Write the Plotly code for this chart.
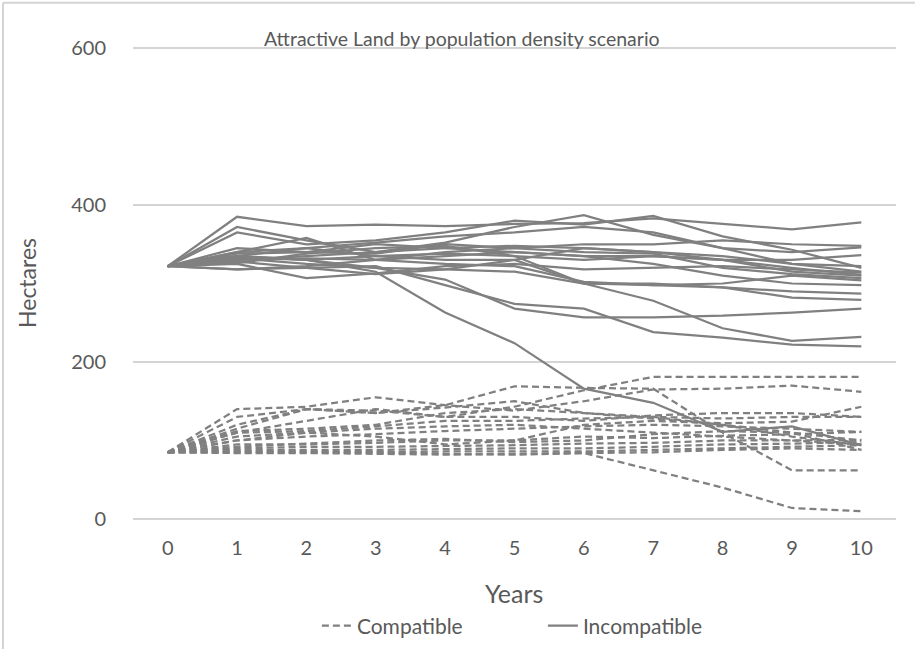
import plotly.graph_objects as go

years = list(range(11))

# Incompatible scenarios (solid lines), hectares per year 0..10
incompatible = [
    [322, 385, 373, 375, 373, 376, 377, 383, 376, 369, 378],
    [322, 372, 355, 340, 352, 372, 387, 362, 345, 325, 315],
    [322, 365, 350, 355, 365, 380, 375, 386, 360, 343, 320],
    [322, 340, 358, 330, 340, 345, 350, 350, 355, 350, 348],
    [322, 335, 345, 352, 360, 365, 372, 365, 345, 340, 346],
    [322, 330, 335, 340, 345, 348, 345, 340, 335, 325, 322],
    [322, 328, 320, 312, 318, 330, 345, 340, 330, 330, 336],
    [322, 325, 307, 313, 322, 325, 318, 320, 322, 318, 314],
    [322, 318, 322, 330, 335, 340, 335, 335, 330, 320, 311],
    [322, 333, 330, 335, 338, 335, 330, 335, 330, 315, 310],
    [322, 345, 340, 338, 350, 345, 340, 338, 320, 312, 307],
    [322, 330, 332, 330, 325, 322, 302, 298, 300, 310, 304],
    [322, 338, 340, 350, 345, 340, 335, 325, 310, 300, 298],
    [322, 326, 338, 345, 348, 335, 300, 298, 295, 290, 287],
    [322, 332, 325, 320, 318, 315, 300, 300, 295, 282, 279],
    [322, 318, 320, 322, 298, 274, 268, 238, 231, 222, 220],
    [322, 335, 330, 320, 305, 268, 257, 257, 259, 263, 268],
    [322, 340, 345, 335, 330, 330, 300, 278, 243, 227, 232],
    [322, 335, 330, 315, 263, 224, 166, 148, 111, 118, 94],
]

# Compatible scenarios (dashed lines)
compatible = [
    [85, 84, 84, 83, 82, 83, 84, 85, 88, 90, 88],
    [85, 86, 86, 85, 86, 86, 86, 88, 90, 92, 94],
    [85, 88, 88, 88, 89, 90, 90, 92, 95, 96, 98],
    [85, 90, 92, 92, 93, 94, 96, 97, 100, 100, 101],
    [85, 95, 95, 97, 100, 100, 105, 103, 106, 108, 111],
    [85, 100, 105, 108, 112, 115, 118, 120, 118, 115, 111],
    [85, 105, 110, 115, 118, 120, 115, 110, 105, 100, 95],
    [85, 110, 112, 118, 125, 125, 128, 130, 128, 130, 130],
    [85, 112, 115, 120, 135, 140, 135, 128, 120, 105, 94],
    [85, 120, 140, 138, 130, 130, 125, 132, 135, 135, 130],
    [85, 130, 140, 135, 142, 150, 135, 130, 120, 110, 100],
    [85, 140, 143, 155, 145, 138, 150, 165, 166, 170, 162],
    [85, 115, 140, 135, 145, 169, 167, 166, 110, 62, 62],
    [85, 110, 125, 140, 130, 143, 164, 181, 181, 181, 181],
    [85, 100, 110, 105, 95, 100, 120, 125, 122, 124, 143],
    [85, 92, 96, 100, 102, 98, 100, 108, 112, 110, 88],
    [85, 85, 85, 85, 83, 82, 84, 62, 40, 14, 10],
]

GRAY = "#808080"
TXT = "#595959"
GRID = "#d4d4d4"
FONT = "Lato"

fig = go.Figure()
for i, ys in enumerate(compatible):
    fig.add_trace(go.Scatter(
        x=years, y=ys, mode="lines", name="Compatible", legendgroup="c",
        showlegend=(i == 0),
        line=dict(color=GRAY, width=2.25, dash="7px,4px"),
        hoverinfo="skip"))
for i, ys in enumerate(incompatible):
    fig.add_trace(go.Scatter(
        x=years, y=ys, mode="lines", name="Incompatible", legendgroup="i",
        showlegend=(i == 0),
        line=dict(color=GRAY, width=2.25),
        hoverinfo="skip"))

fig.update_layout(
    width=915, height=649,
    margin=dict(l=133, r=19, t=47, b=129, autoexpand=False),
    paper_bgcolor="white", plot_bgcolor="white",
    font=dict(family=FONT, color=TXT, size=20),
    xaxis=dict(range=[-0.5, 10.5], tickmode="array", tickvals=years,
               ticktext=[str(y) for y in years], showgrid=False,
               zeroline=False, showline=False, ticks="", automargin=False,
               ticklabelstandoff=14, tickfont=dict(size=20, color=TXT)),
    yaxis=dict(range=[-1.3, 601.3], tickvals=[0, 200, 400, 600],
               showgrid=True, gridcolor=GRID, gridwidth=2,
               zeroline=True, zerolinecolor=GRID, zerolinewidth=2,
               showline=False, ticks="", automargin=False,
               ticklabelstandoff=26, tickfont=dict(size=20, color=TXT)),
    legend=dict(orientation="h", x=0.241, xanchor="left",
                yref="container", y=1 - 626 / 649,
                yanchor="middle", font=dict(size=21, color=TXT),
                entrywidth=181, entrywidthmode="pixels",
                bgcolor="rgba(0,0,0,0)"),
    showlegend=True,
    annotations=[
        dict(text="Attractive Land by population density scenario",
             x=0.431, y=1.017, xref="paper", yref="paper",
             showarrow=False, font=dict(size=19.5, color=TXT),
             xanchor="center", yanchor="middle"),
        dict(text="Hectares", x=-0.139, y=0.501, xref="paper", yref="paper",
             showarrow=False, textangle=-90, font=dict(size=23, color=TXT),
             xanchor="center", yanchor="middle"),
        dict(text="Years", x=0.4993, y=-0.155, xref="paper", yref="paper",
             showarrow=False, font=dict(size=25, color=TXT),
             xanchor="center", yanchor="middle"),
    ],
    shapes=[
        dict(type="line", xref="paper", yref="paper",
             x0=-0.1704, x1=1.03, y0=1.0934, y1=1.0934,
             line=dict(color=GRID, width=2)),
        dict(type="line", xref="paper", yref="paper",
             x0=-0.1704, x1=-0.1704, y0=-0.3, y1=1.0934,
             line=dict(color=GRID, width=2)),
    ],
)

fig.write_html("out.html")
